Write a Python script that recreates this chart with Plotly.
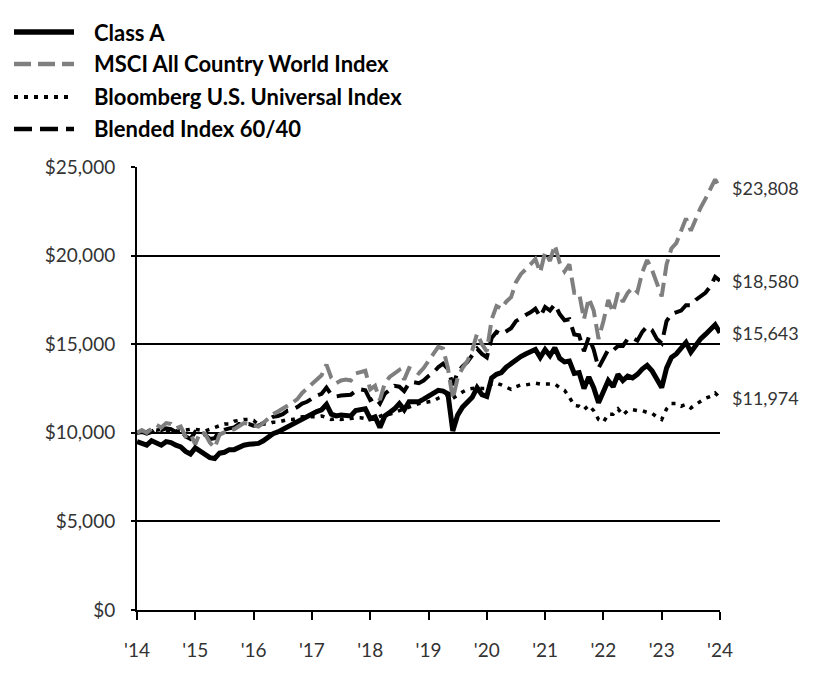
import plotly.graph_objects as go

# ---------------- data (monthly, Oct 2014 -> Oct 2024) ----------------
year_labels = ["'14", "'15", "'16", "'17", "'18", "'19", "'20", "'21", "'22", "'23", "'24"]

class_a = [
    9500, 9400, 9300, 9550, 9400, 9300, 9500, 9450, 9300, 9200,
    8950, 8800, 9150, 8950, 8800, 8600, 8550, 8850, 8900, 9050,
    9050, 9200, 9300, 9350, 9350, 9400, 9550, 9750, 9950, 10050,
    10200, 10350, 10450, 10600, 10750, 10900, 11050, 11200, 11300, 11600,
    11050, 10950, 11000, 10950, 10950, 11250, 11300, 11350, 10800, 10900,
    10300, 10950, 11150, 11350, 11650, 11300, 11750, 11750, 11750, 11900,
    12050, 12200, 12400, 12350, 12200, 10100, 11000, 11450, 11700, 12000,
    12550, 12150, 12050, 13100, 13300, 13400, 13700, 13900, 14150, 14300,
    14450, 14550, 14700, 14250, 14700, 14350, 14800, 14200, 14000, 14050,
    13350, 13400, 12500, 13150, 12550, 11700, 12350, 12950, 12600, 13300,
    12950, 13200, 13100, 13300, 13600, 13800, 13500, 13000, 12550, 13650,
    14250, 14450, 14800, 15100, 14550, 14950, 15300, 15550, 15800, 16100,
    15643,
]

msci_acwi = [
    10000, 10150, 10000, 10250, 10450, 10300, 10550, 10500, 10250, 10350,
    9800, 9950, 9350, 10050, 9950, 9450, 9150, 9900, 10050, 10150,
    10200, 10350, 10550, 10500, 10400, 10350, 10550, 10800, 11050, 11200,
    11350, 11500, 11700, 11900, 12250, 12500, 12750, 13000, 13250, 13850,
    13100, 12800, 12950, 13000, 12950, 13350, 13450, 13500, 12450, 12650,
    11850, 12800, 13150, 13350, 13550, 13000, 13650, 13550, 13350, 13650,
    14050, 14400, 14850, 14750, 13650, 11900, 13100, 13650, 14050, 14650,
    15600, 15000, 14600, 16400, 17150, 17000, 17400, 17650, 18500, 18950,
    19200, 19500, 19800, 19050, 20200, 19700, 20600, 19600, 19100, 19500,
    17900, 17900, 16400, 17600, 16900, 15300, 16300, 17500, 16800, 17900,
    17400, 17900, 18200, 17950, 19050, 19750, 19200, 18400, 17700, 19500,
    20400, 20700, 21400, 22100, 21400, 22100, 22700, 23200, 23800, 24300,
    23808,
]

bloomberg_universal = [
    10000, 10050, 10050, 10200, 10150, 10200, 10150, 10150, 10100, 10150,
    10150, 10200, 10200, 10150, 10100, 10200, 10300, 10450, 10500, 10500,
    10650, 10700, 10750, 10750, 10700, 10450, 10500, 10500, 10600, 10600,
    10700, 10750, 10750, 10850, 10900, 10900, 10900, 10900, 10950, 10850,
    10750, 10800, 10750, 10800, 10800, 10850, 10850, 10800, 10750, 10800,
    10950, 11050, 11050, 11150, 11300, 11400, 11500, 11600, 11650, 11700,
    11750, 11800, 11950, 12100, 12200, 11950, 12150, 12300, 12450, 12500,
    12550, 12500, 12500, 12750, 12800, 12700, 12550, 12450, 12600, 12700,
    12700, 12750, 12800, 12750, 12750, 12750, 12750, 12550, 12400, 12000,
    11550, 11500, 11300, 11550, 11250, 10750, 10600, 11050, 11050, 11350,
    11000, 11250, 11300, 11250, 11250, 11150, 11100, 10900, 10750, 11350,
    11650, 11650, 11500, 11600, 11400, 11600, 11800, 11950, 12050, 12250,
    11974,
]

blended_60_40 = [
    10000, 10050, 9950, 10050, 10250, 10150, 10250, 10200, 10050, 10150,
    9800, 9650, 10050, 10000, 9900, 9650, 9700, 10100, 10200, 10250,
    10300, 10500, 10500, 10500, 10400, 10400, 10550, 10700, 10900, 10950,
    11050, 11250, 11300, 11450, 11650, 11750, 11950, 12100, 12200, 12550,
    12150, 12050, 12100, 12100, 12150, 12350, 12450, 12400, 11850, 12000,
    11650, 12200, 12450, 12650, 12600, 12350, 12800, 12850, 12800, 12950,
    13200, 13400, 13700, 13900, 13600, 12700, 13400, 13750, 14000, 14350,
    14750, 14450, 14250, 15350, 15700, 15550, 15700, 15900, 16300, 16500,
    16650, 16800, 17000, 16550, 17100, 16900, 17250, 16700, 16350, 16400,
    15550, 15500, 14600, 15400, 14700, 13650, 14150, 14700, 14650, 14900,
    14900, 15300, 15350, 15200, 15700, 16000, 15800, 15300, 15050, 16300,
    16700, 16800, 16900, 17200, 17200, 17500, 17700, 17900, 18250, 18800,
    18580,
]

series_names = ["Class A", "MSCI All Country World Index",
                "Bloomberg U.S. Universal Index", "Blended Index 60/40"]
end_labels = ["$15,643", "$23,808", "$11,974", "$18,580"]

months = list(range(len(class_a)))
tick_positions = list(range(0, 121, 12))

# ---------------- styles ----------------
GRAY = "#7f7f7f"
styles = [
    dict(color="black", width=5, dash="solid"),
    dict(color=GRAY, width=4, dash="17px,7px"),
    dict(color="black", width=3.5, dash="4px,6px"),
    dict(color="black", width=4, dash="18px,8px"),
]
all_series = [class_a, msci_acwi, bloomberg_universal, blended_60_40]

fig = go.Figure()
for idx in [2, 3, 1, 0]:
    fig.add_trace(go.Scatter(
        x=months, y=all_series[idx], mode="lines", name=series_names[idx],
        line=styles[idx], showlegend=False, hoverinfo="skip",
    ))

for s, lab in zip(all_series, end_labels):
    fig.add_annotation(x=months[-1], y=s[-1], text=lab, showarrow=False,
                       xanchor="left", yanchor="middle", xshift=10,
                       font=dict(family="Lato", size=18, color="#333333"))

# ---------------- manual legend (pixel geometry) ----------------
OFF = 8  # page body margin
W, H = 840 - OFF, 696 - OFF
L, T = 137 - OFF, 167 - OFF
pw, ph = 583, 443
R, B = W - L - pw, H - T - ph

def px_x(px):
    return (px - OFF - L) / pw

def px_y(py):
    return (T + ph - (py - OFF)) / ph

legend_rows = [32, 64, 97, 129]
for i, yrow in enumerate(legend_rows):
    st = styles[i]
    fig.add_shape(type="line", xref="paper", yref="paper",
                  x0=px_x(14), x1=px_x(74), y0=px_y(yrow), y1=px_y(yrow),
                  line=dict(color=st["color"], width=st["width"] + 0.5, dash=st["dash"]))
    fig.add_annotation(xref="paper", yref="paper", x=px_x(92), y=px_y(yrow),
                       text="<b>" + series_names[i] + "</b>", showarrow=False,
                       xanchor="left", yanchor="middle",
                       font=dict(family="Lato", size=22, color="black"))

fig.update_layout(
    width=W, height=H,
    margin=dict(l=L, r=R, t=T, b=B, pad=0),
    paper_bgcolor="white", plot_bgcolor="white",
    font=dict(family="Lato", size=19, color="#333333"),
    showlegend=False,
)
fig.update_xaxes(
    range=[0, 120], tickvals=tick_positions, ticktext=year_labels,
    showgrid=False, zeroline=False,
    showline=True, linecolor="black", linewidth=2,
    ticks="outside", ticklen=8, tickwidth=2, tickcolor="black",
    ticklabelstandoff=14, fixedrange=True,
)
fig.update_yaxes(
    range=[0, 25000], tickvals=[0, 5000, 10000, 15000, 20000, 25000],
    ticktext=["$0", "$5,000", "$10,000", "$15,000", "$20,000", "$25,000"],
    showgrid=True, gridcolor="black", gridwidth=2,
    zeroline=False, showline=True, linecolor="black", linewidth=2,
    ticks="outside", ticklen=4, tickwidth=2, tickcolor="black",
    ticklabelstandoff=12, fixedrange=True,
)

fig.write_html("out.html")
